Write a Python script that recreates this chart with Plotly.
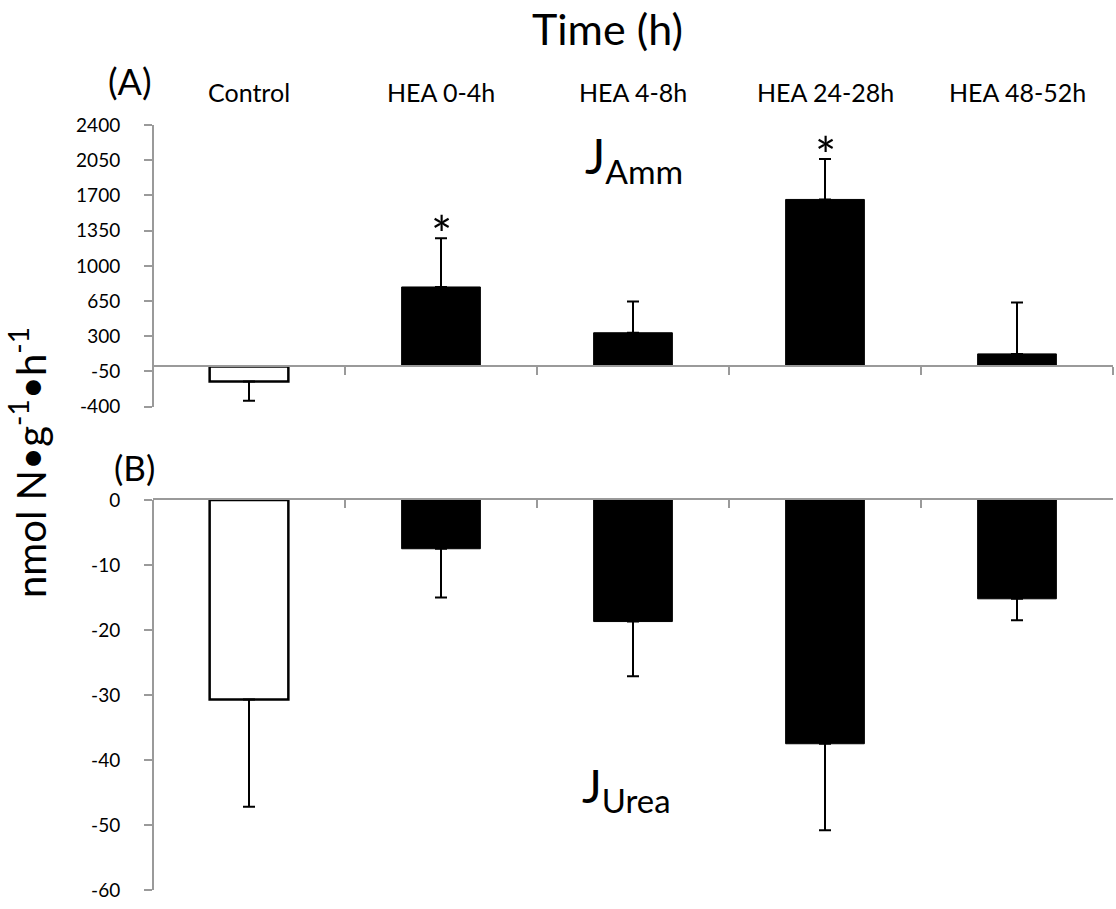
import plotly.graph_objects as go

# ---------------- data ----------------
categories = ["Control", "HEA 0-4h", "HEA 4-8h", "HEA 24-28h", "HEA 48-52h"]
j_amm = [-150, 790, 335, 1660, 125]          # panel A means
j_amm_err = [190, 484, 310, 403, 510]        # panel A error (one-sided)
j_urea = [-30.7, -7.5, -18.7, -37.5, -15.2]  # panel B means
j_urea_err = [16.5, 7.5, 8.4, 13.3, 3.3]     # panel B error (one-sided)
signif_amm = ["HEA 0-4h", "HEA 24-28h"]      # asterisks in panel A

amm_ticks = [-400, -50, 300, 650, 1000, 1350, 1700, 2050, 2400]
amm_ticklabels = ["-400", "-50", "300", "650", "1000", "1350", "1700", "2050", "2400"]
urea_ticks = [0, -10, -20, -30, -40, -50, -60]
urea_ticklabels = ["0", "-10", "-20", "-30", "-40", "-50", "-60"]

# ---------------- style ----------------
W, H = 1116, 909
FONT = "Lato"
AXIS_GRAY = "#9a9a9a"
bar_fill = ["white", "black", "black", "black", "black"]
bar_line_w = [2.5, 1, 1, 1, 1]
ML, MR = 153, 3
PLOT_W = W - ML - MR


def py(px):
    return 1 - px / H


def pxx(px):
    return (px - ML) / PLOT_W


dom_a = [py(406.7), py(125)]
dom_b = [py(890), py(500)]
range_a = [-400, 2400]
range_b = [-60, 0]
zero_pos_a = dom_a[0] + (0 - range_a[0]) / (range_a[1] - range_a[0]) * (dom_a[1] - dom_a[0])

fig = go.Figure()

plus_a = [e if v > 0 else 0 for v, e in zip(j_amm, j_amm_err)]
minus_a = [e if v < 0 else 0 for v, e in zip(j_amm, j_amm_err)]
fig.add_trace(go.Bar(
    x=categories, y=j_amm, xaxis="x", yaxis="y", width=0.41,
    marker=dict(color=bar_fill, line=dict(color="black", width=bar_line_w)),
    error_y=dict(type="data", symmetric=False, array=plus_a, arrayminus=minus_a,
                 color="black", thickness=2, width=6),
    showlegend=False, hoverinfo="skip",
))

plus_b = [e if v > 0 else 0 for v, e in zip(j_urea, j_urea_err)]
minus_b = [e if v < 0 else 0 for v, e in zip(j_urea, j_urea_err)]
fig.add_trace(go.Bar(
    x=categories, y=j_urea, xaxis="x2", yaxis="y2", width=0.41,
    marker=dict(color=bar_fill, line=dict(color="black", width=bar_line_w)),
    error_y=dict(type="data", symmetric=False, array=plus_b, arrayminus=minus_b,
                 color="black", thickness=2, width=6),
    showlegend=False, hoverinfo="skip",
))

xcommon = dict(type="category", categoryorder="array", categoryarray=categories,
               range=[-0.5, 4.5], showline=True, linecolor=AXIS_GRAY, linewidth=2,
               ticklen=8, tickwidth=2, tickcolor=AXIS_GRAY, tickson="boundaries",
               showticklabels=False, showgrid=False, zeroline=False, domain=[0, 1],
               automargin=False)
ycommon = dict(showline=True, linecolor=AXIS_GRAY, linewidth=2, ticks="outside",
               ticklen=8, tickwidth=2, tickcolor=AXIS_GRAY, showgrid=False,
               zeroline=False, anchor="free", position=0, ticklabelstandoff=20,
               automargin=False,
               tickfont=dict(family=FONT, size=19, color="black"))

fig.update_layout(
    width=W, height=H,
    margin=dict(l=ML, r=MR, t=0, b=0, pad=0, autoexpand=False),
    paper_bgcolor="white", plot_bgcolor="white",
    xaxis=dict(**xcommon, anchor="free", position=zero_pos_a, ticks="outside"),
    xaxis2=dict(**xcommon, anchor="y2", side="top", ticks="inside"),
    yaxis=dict(**ycommon, domain=dom_a, range=range_a, tickmode="array",
               tickvals=amm_ticks, ticktext=amm_ticklabels),
    yaxis2=dict(**ycommon, domain=dom_b, range=range_b, tickmode="array",
                tickvals=urea_ticks, ticktext=urea_ticklabels),
)

ann = []
# category labels above panel A
for c in categories:
    ann.append(dict(x=c, y=py(91.7), xref="x", yref="paper", text=c, showarrow=False,
                    xanchor="center", yanchor="middle",
                    font=dict(family=FONT, size=25, color="black")))
# asterisks
for c in signif_amm:
    i = categories.index(c)
    ann.append(dict(x=c, y=j_amm[i] + j_amm_err[i], xref="x", yref="y", text="*",
                    showarrow=False, xanchor="center", yanchor="middle", yshift=4,
                    font=dict(family=FONT, size=50, color="black")))
# title
ann.append(dict(x=pxx(607.5), y=py(29), xref="paper", yref="paper", text="Time (h)",
                showarrow=False, xanchor="center", yanchor="middle",
                font=dict(family=FONT, size=43, color="black")))
# panel letters
ann.append(dict(x=pxx(130), y=py(81), xref="paper", yref="paper", text="(A)",
                showarrow=False, xanchor="center", yanchor="middle",
                font=dict(family=FONT, size=36, color="black")))
ann.append(dict(x=pxx(134.7), y=py(466.7), xref="paper", yref="paper", text="(B)",
                showarrow=False, xanchor="center", yanchor="middle",
                font=dict(family=FONT, size=35, color="black")))
# flux labels
ann.append(dict(x=pxx(583), y=py(125), xref="paper", yref="paper", text="J<sub>Amm</sub>",
                showarrow=False, xanchor="left", yanchor="top",
                font=dict(family=FONT, size=48, color="black")))
ann.append(dict(x=pxx(580), y=py(755), xref="paper", yref="paper", text="J<sub>Urea</sub>",
                showarrow=False, xanchor="left", yanchor="top",
                font=dict(family=FONT, size=47, color="black")))
# y axis title
ann.append(dict(x=pxx(28), y=py(462), xref="paper", yref="paper",
                text="nmol N•g<sup>-1</sup>•h<sup>-1</sup>", textangle=-90,
                showarrow=False, xanchor="center", yanchor="middle",
                font=dict(family=FONT, size=40, color="black")))
fig.update_layout(annotations=ann)

fig.write_html("out.html", config={"displayModeBar": False},
               post_script="document.body.style.margin='0';document.body.style.overflow='hidden';")
